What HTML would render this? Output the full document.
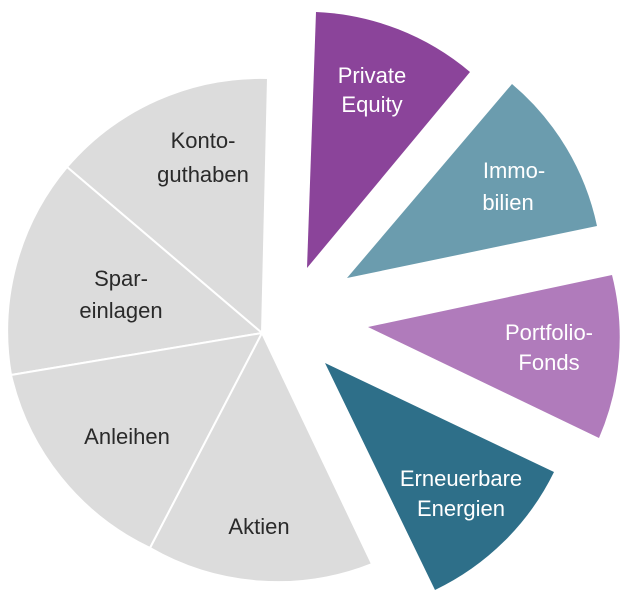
<!DOCTYPE html>
<html><head><meta charset="utf-8"><style>
html,body{margin:0;padding:0;background:#fff;}
svg{display:block;}
text{font-family:"Liberation Sans",sans-serif;font-size:22px;text-anchor:middle;}
</style></head><body>
<svg width="628" height="606" viewBox="0 0 628 606" xmlns="http://www.w3.org/2000/svg">
<g fill="#dcdcdc" stroke="#fff" stroke-width="2" stroke-linejoin="round">
<path d="M262,333 L268,78 A255,255 0 0 0 67,167 Z"/>
<path d="M262,333 L67,167 A255,255 0 0 0 11,375 Z"/>
<path d="M262,333 L11,375 A255,255 0 0 0 150,548 Z"/>
<path d="M262,333 L150,548 A255,255 0 0 0 372,564 Z"/>
</g>
<path fill="#8b449a" d="M307,268 L316,12 A255,255 0 0 1 470,72 Z"/>
<path fill="#6b9cae" d="M347,278 L512,84 A255,255 0 0 1 597,226 Z"/>
<path fill="#b07bbb" d="M368,327 L612,275 A255,255 0 0 1 599,438 Z"/>
<path fill="#2e6f89" d="M325,363 L554,472 A255,255 0 0 1 435,590 Z"/>
<g fill="#2a2a2a">
<text x="203" y="148">Konto-</text>
<text x="203" y="182">guthaben</text>
<text x="121" y="286">Spar-</text>
<text x="121" y="318">einlagen</text>
<text x="127" y="444">Anleihen</text>
<text x="259" y="534">Aktien</text>
</g>
<g fill="#fff">
<text x="372" y="83">Private</text>
<text x="372" y="112">Equity</text>
<text x="514" y="178">Immo-</text>
<text x="508" y="210">bilien</text>
<text x="549" y="340">Portfolio-</text>
<text x="549" y="370">Fonds</text>
<text x="461" y="486">Erneuerbare</text>
<text x="461" y="516">Energien</text>
</g>
</svg>
</body></html>
